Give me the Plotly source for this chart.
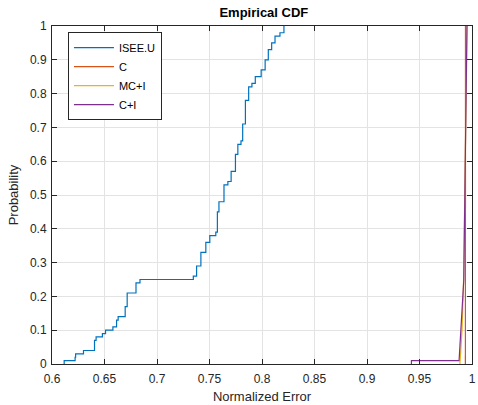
import plotly.graph_objects as go

# ECDF knots (x where the step occurs, cumulative probability after the step)
isee_x = [0.6116, 0.6116, 0.622, 0.6225, 0.630, 0.6405, 0.642, 0.648, 0.651, 0.658,
          0.6615, 0.663, 0.6697, 0.6716, 0.680, 0.6838, 0.7346, 0.7377, 0.7418,
          0.7465, 0.7503, 0.756, 0.7575, 0.759, 0.7638, 0.7675, 0.7706, 0.7747,
          0.777, 0.780, 0.7816, 0.7842, 0.7873, 0.7904, 0.7936, 0.7992, 0.803,
          0.806, 0.8092, 0.8124, 0.8171, 0.8209]
isee_y = [0.0, 0.01, 0.02, 0.03, 0.04, 0.07, 0.08, 0.09, 0.10, 0.11,
          0.13, 0.14, 0.17, 0.21, 0.24, 0.25, 0.26, 0.29, 0.33,
          0.36, 0.38, 0.39, 0.45, 0.48, 0.53, 0.54, 0.57, 0.62,
          0.65, 0.66, 0.71, 0.78, 0.82, 0.83, 0.85, 0.87, 0.90,
          0.93, 0.95, 0.97, 0.98, 1.00]

c_x = [0.9937, 0.9937, 0.9938]
c_y = [0.0, 0.5, 1.0]

mci_x = [0.9885, 0.9888, 0.9905, 0.9920, 0.9932, 0.9945, 0.9953]
mci_y = [0.0, 0.02, 0.10, 0.25, 0.50, 0.85, 1.00]

ci_x = [0.9423, 0.9423, 0.9877, 0.9895, 0.9922, 0.9924, 0.9940, 0.9952]
ci_y = [0.0, 0.01, 0.01, 0.10, 0.25, 0.30, 0.70, 1.00]

series = [
    ("ISEE.U", isee_x, isee_y, "#0072BD", "hv"),
    ("C", c_x, c_y, "#D95319", "linear"),
    ("MC+I", mci_x, mci_y, "#EDB120", "linear"),
    ("C+I", ci_x, ci_y, "#7E2F8E", "linear"),
]

fig = go.Figure()
for name, xs, ys, col, shape in series:
    fig.add_trace(go.Scatter(x=xs, y=ys, mode="lines", name=name,
                             line=dict(color=col, width=1.2, shape=shape)))

font_family = "Liberation Sans, Arial, sans-serif"
axis_common = dict(
    showline=True, mirror="ticks", linecolor="#262626", linewidth=1,
    ticks="inside", ticklen=5, tickcolor="#262626",
    showgrid=True, gridcolor="#e3e3e3", gridwidth=1, zeroline=False,
    tickfont=dict(size=12, color="#262626", family=font_family),
    ticklabeloverflow="allow",
)

fig.update_layout(
    width=478, height=405,
    margin=dict(l=52, r=2, t=26, b=41),
    paper_bgcolor="white", plot_bgcolor="white",
    font=dict(family=font_family, color="#262626"),
    title=dict(text="<b>Empirical CDF</b>", x=0.552, xanchor="center",
               y=0.970, yanchor="middle", font=dict(size=13, color="#000000")),
    xaxis=dict(range=[0.6, 1.0], dtick=0.05, tick0=0.6, ticklabelstandoff=4,
               title=dict(text="Normalized Error", font=dict(size=13, color="#262626"), standoff=6),
               **axis_common),
    yaxis=dict(range=[0, 1], dtick=0.1, tick0=0, ticklabelstandoff=2,
               title=dict(text="Probability", font=dict(size=13, color="#262626"), standoff=8),
               **axis_common),
    legend=dict(x=0.038, y=0.982, xanchor="left", yanchor="top",
                bgcolor="white", bordercolor="#262626", borderwidth=1,
                font=dict(size=11, color="#000000"), itemwidth=40,
                tracegroupgap=0),
    showlegend=True,
)

fig.write_html("out.html")
